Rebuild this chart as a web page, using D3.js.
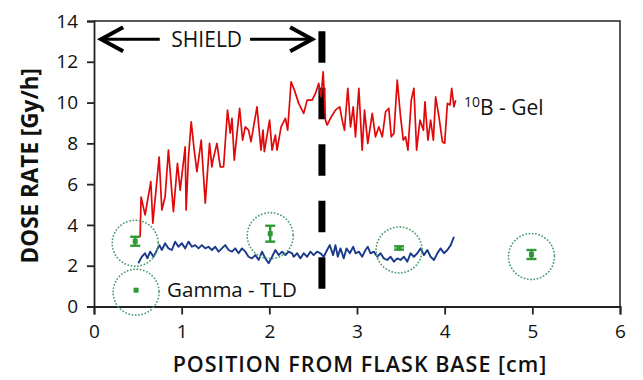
<!DOCTYPE html>
<html>
<head>
<meta charset="utf-8">
<script src="https://cdn.jsdelivr.net/npm/d3@7"></script>
<style>
  body { margin: 0; background: #fff; }
  svg text { font-family: "Open Sans", sans-serif; fill: #111; }
</style>
</head>
<body>
<svg id="chart" width="643" height="380"></svg>
<script>
// red line: 10B-gel dose rate along the flask
const gelX = [0.526,0.537,0.583,0.648,0.671,0.743,0.774,0.811,0.849,0.906,0.952,0.983,1.040,1.051,1.078,1.109,1.143,1.174,1.223,1.269,1.318,1.345,1.357,1.402,1.440,1.478,1.523,1.554,1.574,1.600,1.661,1.695,1.726,1.763,1.791,1.859,1.905,1.928,1.943,2.003,2.031,2.069,2.088,2.134,2.183,2.209,2.248,2.286,2.335,2.392,2.431,2.488,2.526,2.563,2.591,2.614,2.640,2.659,2.697,2.754,2.803,2.831,2.857,2.895,2.926,2.957,2.983,3.021,3.059,3.086,3.123,3.174,3.211,3.249,3.288,3.326,3.363,3.391,3.421,3.459,3.497,3.528,3.554,3.581,3.619,3.649,3.680,3.718,3.757,3.775,3.809,3.840,3.871,3.897,3.935,3.974,4.000,4.031,4.061,4.080,4.106,4.126];
const gelY = [3.41,5.37,4.49,6.12,4.09,7.33,4.73,5.38,7.67,4.65,7.02,5.71,7.83,4.73,7.34,9.06,7.67,6.61,8.16,5.07,8.00,6.85,7.18,8.00,6.85,6.85,9.63,8.50,9.23,7.18,9.72,8.16,8.81,8.65,8.08,9.79,7.67,8.65,7.59,9.14,7.67,8.41,7.67,8.81,9.23,8.65,11.02,10.61,9.96,9.47,10.12,10.12,10.45,10.94,10.28,11.51,9.14,8.90,9.23,9.63,9.79,9.14,8.65,10.70,8.81,9.79,8.32,10.70,7.67,9.63,8.00,9.47,8.32,8.81,8.32,9.55,9.72,8.32,8.49,11.10,9.30,8.16,8.32,7.67,10.12,10.70,7.67,9.14,8.65,10.04,8.16,9.14,8.16,10.28,9.30,8.08,8.00,9.96,9.88,10.70,9.79,10.12];

// blue line: gamma dose rate
const gammaX = [0.506,0.545,0.583,0.609,0.640,0.678,0.709,0.746,0.774,0.811,0.849,0.888,0.926,0.963,1.002,1.040,1.078,1.117,1.154,1.192,1.231,1.269,1.306,1.345,1.383,1.421,1.459,1.497,1.535,1.574,1.611,1.649,1.688,1.726,1.763,1.802,1.840,1.878,1.917,1.954,1.992,2.031,2.069,2.106,2.145,2.183,2.221,2.259,2.278,2.317,2.354,2.392,2.431,2.469,2.506,2.545,2.583,2.621,2.659,2.689,2.728,2.754,2.781,2.811,2.849,2.880,2.918,2.957,2.983,3.021,3.059,3.097,3.123,3.154,3.192,3.231,3.269,3.306,3.345,3.383,3.421,3.459,3.497,3.535,3.574,3.611,3.649,3.688,3.726,3.763,3.802,3.840,3.878,3.917,3.954,3.992,4.031,4.069,4.106];
const gammaY = [2.12,2.44,2.61,2.36,2.69,2.44,2.69,3.01,2.77,3.10,2.85,2.77,3.18,2.93,3.10,2.85,3.18,2.93,3.01,2.85,3.01,2.85,2.93,2.77,2.93,2.69,2.85,3.01,2.77,2.69,2.85,2.61,2.85,2.69,2.44,2.36,2.52,2.28,2.69,2.36,2.12,2.44,2.77,2.52,2.69,2.52,2.69,2.61,2.44,2.61,2.36,2.61,2.44,2.69,2.52,2.69,2.61,2.44,2.77,3.01,2.52,3.01,2.44,2.85,2.36,2.85,2.61,2.93,2.61,2.69,2.44,2.77,2.93,2.61,2.69,2.44,2.61,2.36,2.28,2.44,2.20,2.36,2.28,2.44,2.20,2.61,2.44,2.61,2.85,2.52,2.77,2.44,2.28,2.61,2.85,2.61,2.77,3.01,3.42];

// TLD points with error bars
const tldX = [0.47, 0.48, 2.01, 3.48, 4.99];
const tldY = [3.20, 0.80, 3.57, 2.87, 2.55];
const tldErr = [0.22, 0, 0.39, 0.08, 0.22];

const xTicks = [0, 1, 2, 3, 4, 5, 6];
const yTicks = [0, 2, 4, 6, 8, 10, 12, 14];

const shieldEdge = 2.6;

const width = 643, height = 380;
const margin = { top: 21, right: 23, bottom: 73.5, left: 94 };

const svg = d3.select("#chart");

const x = d3.scaleLinear().domain([0, 6]).range([margin.left, width - margin.right]);
const y = d3.scaleLinear().domain([0, 14]).range([height - margin.bottom, margin.top]);

// frame (top + right)
svg.append("path")
  .attr("d", `M${x(0)},${y(14)}H${x(6)}V${y(0)}`)
  .attr("fill", "none")
  .attr("stroke", "#222")
  .attr("stroke-width", 1.5);

// axes
const gx = svg.append("g")
  .attr("transform", `translate(0,${y(0)})`)
  .call(d3.axisBottom(x).tickValues(xTicks).tickFormat(d3.format("d")).tickSize(8).tickPadding(10));
const gy = svg.append("g")
  .attr("transform", `translate(${x(0)},0)`)
  .call(d3.axisLeft(y).tickValues(yTicks).tickFormat(d3.format("d")).tickSize(7).tickPadding(9));

[gx, gy].forEach(g => {
  g.selectAll(".domain").attr("stroke", "#222").attr("stroke-width", 1.8);
  g.selectAll(".tick line").attr("stroke", "#222").attr("stroke-width", 1.8);
  g.selectAll(".tick text").attr("font-size", 19).attr("fill", "#111")
    .style("font-family", "'Open Sans', sans-serif");
});

// axis titles
svg.append("text")
  .attr("transform", `translate(38,${(y(0) + y(14)) / 2 + 2}) rotate(-90)`)
  .attr("text-anchor", "middle")
  .attr("font-size", 22.5)
  .attr("font-weight", 700)
  .text("DOSE RATE [Gy/h]");

svg.append("text")
  .attr("x", 360)
  .attr("y", 372)
  .attr("text-anchor", "middle")
  .attr("font-size", 21.5)
  .attr("font-weight", 600)
  .attr("letter-spacing", 1)
  .text("POSITION  FROM  FLASK BASE [cm]");

// shield boundary
svg.append("line")
  .attr("x1", x(shieldEdge)).attr("x2", x(shieldEdge))
  .attr("y1", y(13.5)).attr("y2", y(0.86))
  .attr("stroke", "#000")
  .attr("stroke-width", 7)
  .attr("stroke-dasharray", "31.5,25");

// SHIELD arrows
const arrowY = y(13.1);
const leftTip = x(0.07), leftEnd = x(0.75);
const rightStart = x(1.78), rightTip = x(2.5);
const arrows = svg.append("g").attr("stroke", "#000").attr("fill", "none")
  .attr("stroke-width", 3).attr("stroke-linejoin", "miter");
arrows.append("path").attr("d", `M${leftTip},${arrowY}H${leftEnd}`);
arrows.append("path").attr("d", `M${leftTip + 23},${arrowY - 12}L${leftTip + 1},${arrowY}L${leftTip + 23},${arrowY + 12}`).attr("stroke-width", 4);
arrows.append("path").attr("d", `M${rightStart},${arrowY}H${rightTip}`);
arrows.append("path").attr("d", `M${rightTip - 23},${arrowY - 12}L${rightTip - 1},${arrowY}L${rightTip - 23},${arrowY + 12}`).attr("stroke-width", 4);

svg.append("text")
  .attr("x", x(1.286)).attr("y", arrowY + 7.5)
  .attr("text-anchor", "middle")
  .attr("font-size", 21)
  .text("SHIELD");

// lines
const line = d3.line().x(d => x(d[0])).y(d => y(d[1]));

svg.append("path")
  .datum(d3.zip(gelX, gelY))
  .attr("fill", "none")
  .attr("stroke", "#e00808")
  .attr("stroke-width", 1.7)
  .attr("stroke-linejoin", "round")
  .attr("d", line);

svg.append("path")
  .datum(d3.zip(gammaX, gammaY))
  .attr("fill", "none")
  .attr("stroke", "#1b3a8c")
  .attr("stroke-width", 1.9)
  .attr("stroke-linejoin", "round")
  .attr("d", line);

// TLD markers
const tld = d3.range(tldX.length).map(i => ({ x: tldX[i], y: tldY[i], e: tldErr[i] }));

svg.append("g").selectAll("circle")
  .data(tld)
  .join("circle")
  .attr("cx", d => x(d.x))
  .attr("cy", d => y(d.y) + 2)
  .attr("r", 23)
  .attr("fill", "none")
  .attr("stroke", "#4f9e72")
  .attr("stroke-width", 1.8)
  .attr("stroke-linecap", "round")
  .attr("stroke-dasharray", "0.1,3.2");

const bars = svg.append("g").attr("stroke", "#2f9a35").attr("stroke-width", 2.4);
tld.filter(d => d.e > 0).forEach(d => {
  const cx = x(d.x), y1 = y(d.y + d.e), y2 = y(d.y - d.e);
  bars.append("line").attr("x1", cx).attr("x2", cx).attr("y1", y1).attr("y2", y2);
  bars.append("line").attr("x1", cx - 5).attr("x2", cx + 5).attr("y1", y1).attr("y2", y1);
  bars.append("line").attr("x1", cx - 5).attr("x2", cx + 5).attr("y1", y2).attr("y2", y2);
});
svg.append("g").selectAll("rect")
  .data(tld)
  .join("rect")
  .attr("x", d => x(d.x) - 2.5)
  .attr("y", d => y(d.y) - 2.5)
  .attr("width", 5)
  .attr("height", 5)
  .attr("fill", "#2f9a35");

// series labels
const gelLabel = svg.append("text")
  .attr("x", x(4.22)).attr("y", y(9.38))
  .attr("font-size", 21);
gelLabel.append("tspan").attr("font-size", 14).attr("dy", -8).text("10");
gelLabel.append("tspan").attr("dy", 8).text("B - Gel");

svg.append("text")
  .attr("x", x(0.834)).attr("y", y(0.48))
  .attr("font-size", 20.5)
  .text("Gamma - TLD");
</script>
</body>
</html>
